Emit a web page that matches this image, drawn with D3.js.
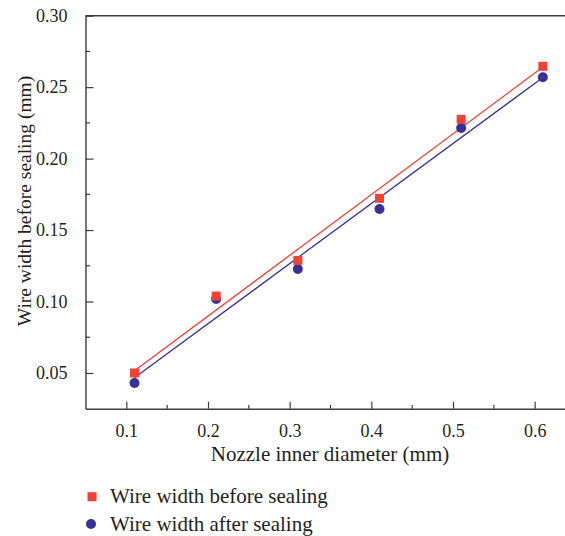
<!DOCTYPE html>
<html><head><meta charset="utf-8">
<script src="https://cdn.jsdelivr.net/npm/d3@7"></script>
<style>
html,body{margin:0;padding:0;background:#fff;}
svg{display:block;}
text{font-family:"Liberation Serif","Times New Roman",serif;fill:#231f20;}
</style></head>
<body><svg id="chart" width="565" height="536"></svg>
<script>
const diameters = [0.11, 0.21, 0.31, 0.41, 0.51, 0.61];
const widthBefore = [0.050, 0.1038, 0.1288, 0.1722, 0.2275, 0.2646];
const widthAfter = [0.043, 0.1017, 0.1227, 0.1647, 0.2214, 0.2569];
const xTicks = [0.1, 0.2, 0.3, 0.4, 0.5, 0.6];
const yTicks = [0.05, 0.10, 0.15, 0.20, 0.25, 0.30];
const xTitle = "Nozzle inner diameter (mm)";
const yTitle = "Wire width before sealing (mm)";
const legendLabels = ["Wire width before sealing", "Wire width after sealing"];
const red = "#ef4136", blue = "#3a2f94", axisCol = "#3c3c3c";
const serif = "'Liberation Serif', 'Times New Roman', serif";

const svg = d3.select("#chart");
const L = 85.5, R = 575.5, T = 15.7, B = 408.7;
const x = d3.scaleLinear().domain([0.05, 0.65]).range([L, R]);
const y = d3.scaleLinear().domain([0.025, 0.30]).range([B, T]);

function fit(xs, ys) {
  const n = xs.length, mx = d3.mean(xs), my = d3.mean(ys);
  let sxy = 0, sxx = 0;
  for (let i = 0; i < n; i++) { sxy += (xs[i]-mx)*(ys[i]-my); sxx += (xs[i]-mx)**2; }
  const b = sxy/sxx, a = my - b*mx;
  return [[xs[0], a + b*xs[0]], [xs[n-1], a + b*xs[n-1]]];
}

// frame
svg.append("line").attr("x1", L).attr("x2", R).attr("y1", T).attr("y2", T).attr("stroke", axisCol).attr("stroke-width", 1.4);
svg.append("line").attr("x1", R).attr("x2", R).attr("y1", T).attr("y2", B).attr("stroke", axisCol).attr("stroke-width", 1.4);

// x axis
const xAxis = d3.axisBottom(x).tickValues(xTicks).tickSizeInner(-7).tickSizeOuter(0).tickPadding(16).tickFormat(d3.format(".1f"));
const gx = svg.append("g").attr("transform", `translate(0,${B})`).call(xAxis).attr("font-family", serif);
gx.select(".domain").attr("stroke", axisCol).attr("stroke-width", 1.4);
gx.selectAll(".tick line").attr("stroke", axisCol).attr("stroke-width", 1.2);
gx.selectAll(".tick text").attr("font-size", 18).style("font-family", serif).attr("fill", "#231f20");
const xMinor = [0.15, 0.25, 0.35, 0.45, 0.55];
gx.selectAll(".minor").data(xMinor).enter().append("line")
  .attr("x1", d => x(d)).attr("x2", d => x(d)).attr("y1", 0).attr("y2", -3.7)
  .attr("stroke", axisCol).attr("stroke-width", 1.2);

// y axis
const yAxis = d3.axisLeft(y).tickValues(yTicks).tickSizeInner(-8).tickSizeOuter(0).tickPadding(18).tickFormat(d3.format(".2f"));
const gy = svg.append("g").attr("transform", `translate(${L},0)`).call(yAxis).attr("font-family", serif);
gy.select(".domain").attr("stroke", axisCol).attr("stroke-width", 1.4);
gy.selectAll(".tick line").attr("stroke", axisCol).attr("stroke-width", 1.2);
gy.selectAll(".tick text").attr("font-size", 18).style("font-family", serif).attr("fill", "#231f20");
const yMinor = [0.075, 0.125, 0.175, 0.225, 0.275];
gy.selectAll(".minor").data(yMinor).enter().append("line")
  .attr("x1", 0).attr("x2", 4.5).attr("y1", d => y(d)).attr("y2", d => y(d))
  .attr("stroke", axisCol).attr("stroke-width", 1.2);

// titles
svg.append("text").attr("x", 330).attr("y", 461).attr("text-anchor", "middle").attr("font-size", 21).text(xTitle);
svg.append("text").attr("transform", "translate(31,201) rotate(-90)").attr("text-anchor", "middle").attr("font-size", 19.5).text(yTitle);

// fit lines
const line = d3.line().x(d => x(d[0])).y(d => y(d[1]));
svg.append("path").attr("d", line(fit(diameters, widthBefore))).attr("stroke", red).attr("stroke-width", 1.3).attr("fill", "none");
svg.append("path").attr("d", line(fit(diameters, widthAfter))).attr("stroke", blue).attr("stroke-width", 1.3).attr("fill", "none");

// points
const S = 9;
svg.selectAll(".ptA").data(diameters).enter().append("circle")
  .attr("cx", d => x(d)).attr("cy", (d, i) => y(widthAfter[i])).attr("r", 5).attr("fill", blue);
svg.selectAll(".ptB").data(diameters).enter().append("rect")
  .attr("x", d => x(d) - S/2).attr("y", (d, i) => y(widthBefore[i]) - S/2).attr("width", S).attr("height", S).attr("fill", red);

// legend
const lg = svg.append("g");
lg.append("rect").attr("x", 92 - S/2).attr("y", 496.7 - S/2).attr("width", S).attr("height", S).attr("fill", red);
lg.append("text").attr("x", 110).attr("y", 502.5).attr("font-size", 21).text(legendLabels[0]);
lg.append("circle").attr("cx", 91).attr("cy", 524).attr("r", 5).attr("fill", blue);
lg.append("text").attr("x", 110).attr("y", 531).attr("font-size", 21).text(legendLabels[1]);
</script></body></html>
